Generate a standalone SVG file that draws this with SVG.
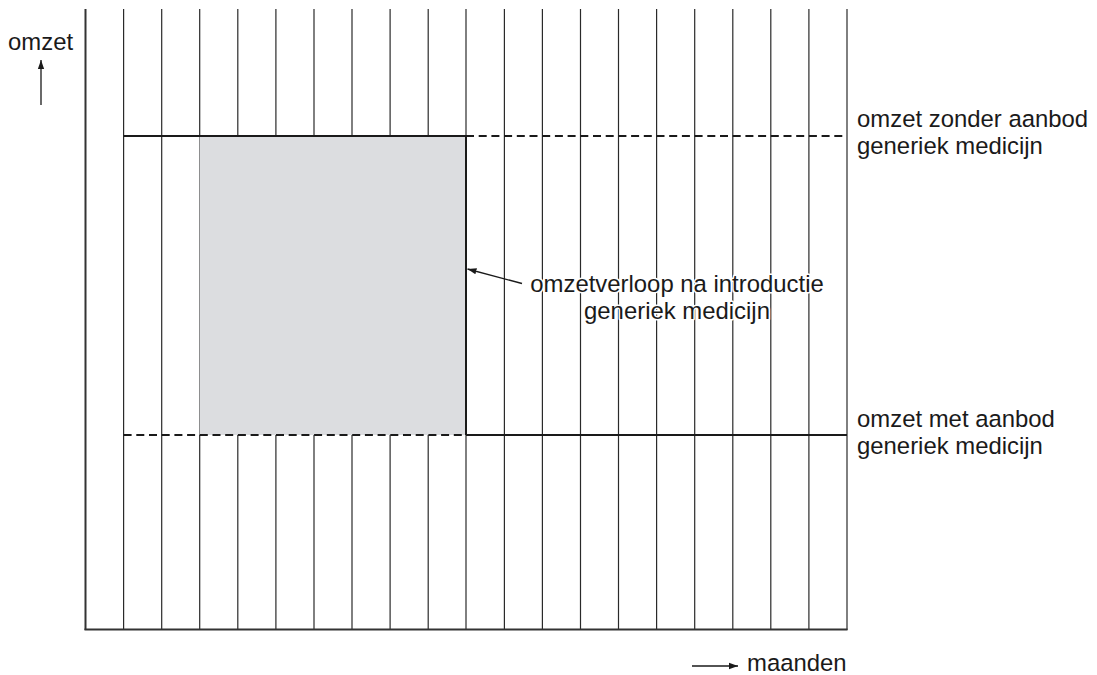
<svg xmlns="http://www.w3.org/2000/svg" width="1097" height="675" viewBox="0 0 1097 675">
<style>
.grid line{stroke:#2a2a2a;stroke-width:1.2}
.solid{stroke:#1a1a1a;stroke-width:1.8;fill:none}
.dash{stroke:#1a1a1a;stroke-width:1.8;stroke-dasharray:8 4.7;fill:none}
.axis{stroke:#333;stroke-width:2;fill:none}
.lbl{font-family:"Liberation Sans",Arial,sans-serif;font-size:23.9px;fill:#1a1a1a}
.halo{stroke:#fff;stroke-width:3;paint-order:stroke;stroke-linejoin:round}
.arr{stroke:#1a1a1a;stroke-width:1.3;fill:none}
</style>
<defs>
<marker id="ah" viewBox="0 0 10 10" refX="10" refY="5" markerWidth="9" markerHeight="9" markerUnits="userSpaceOnUse" orient="auto">
<path d="M0,1.5 L10,5 L0,8.5 Z" fill="#1a1a1a"/>
</marker>
</defs>
<rect width="1097" height="675" fill="#fff"/>
<g id="grid" class="grid">
<line x1="123.6" y1="9" x2="123.6" y2="630"/>
<line x1="161.7" y1="9" x2="161.7" y2="630"/>
<line x1="199.7" y1="9" x2="199.7" y2="630"/>
<line x1="237.8" y1="9" x2="237.8" y2="630"/>
<line x1="275.9" y1="9" x2="275.9" y2="630"/>
<line x1="314" y1="9" x2="314" y2="630"/>
<line x1="352" y1="9" x2="352" y2="630"/>
<line x1="390.1" y1="9" x2="390.1" y2="630"/>
<line x1="428.2" y1="9" x2="428.2" y2="630"/>
<line x1="466" y1="9" x2="466" y2="630"/>
<line x1="504.4" y1="9" x2="504.4" y2="630"/>
<line x1="542.4" y1="9" x2="542.4" y2="630"/>
<line x1="580.5" y1="9" x2="580.5" y2="630"/>
<line x1="618.5" y1="9" x2="618.5" y2="630"/>
<line x1="656.6" y1="9" x2="656.6" y2="630"/>
<line x1="694.7" y1="9" x2="694.7" y2="630"/>
<line x1="732.8" y1="9" x2="732.8" y2="630"/>
<line x1="770.8" y1="9" x2="770.8" y2="630"/>
<line x1="808.9" y1="9" x2="808.9" y2="630"/>
<line x1="847" y1="9" x2="847" y2="630"/>
</g>
<g id="shaded-area">
<rect x="199.5" y="136" width="266.5" height="299" fill="#dcdde0"/>
<line x1="466" y1="136" x2="466" y2="435" stroke="#1a1a1a" stroke-width="2"/>
</g>
<g id="axes">
<line class="axis" x1="85.5" y1="9" x2="85.5" y2="630"/>
<line class="axis" x1="84.5" y1="629.5" x2="847.5" y2="629.5"/>
</g>
<g id="revenue-lines">
<line class="solid" x1="123.6" y1="136" x2="466" y2="136"/>
<line class="dash" x1="466" y1="136" x2="847" y2="136"/>
<line class="dash" x1="123.6" y1="435" x2="466" y2="435"/>
<line class="solid" x1="466" y1="435" x2="847" y2="435"/>
</g>
<g id="connectors">
<line class="arr" x1="41" y1="105" x2="41" y2="60" marker-end="url(#ah)"/>
<line class="arr" x1="692" y1="666" x2="738" y2="666" marker-end="url(#ah)"/>
<line class="arr" x1="522" y1="283.5" x2="467.5" y2="269" marker-end="url(#ah)"/>
</g>
<g id="label-omzet"><text class="lbl" x="8" y="50">omzet</text></g>
<g id="label-maanden"><text class="lbl" x="747" y="671">maanden</text></g>
<g id="label-zonder">
<text class="lbl" x="857" y="127">omzet zonder aanbod</text>
<text class="lbl" x="857" y="154">generiek medicijn</text>
</g>
<g id="label-met">
<text class="lbl" x="857" y="427">omzet met aanbod</text>
<text class="lbl" x="857" y="454">generiek medicijn</text>
</g>
<g id="label-verloop">
<text class="lbl halo" x="677" y="292" text-anchor="middle">omzetverloop na introductie</text>
<text class="lbl halo" x="677" y="319" text-anchor="middle">generiek medicijn</text>
</g>
</svg>
